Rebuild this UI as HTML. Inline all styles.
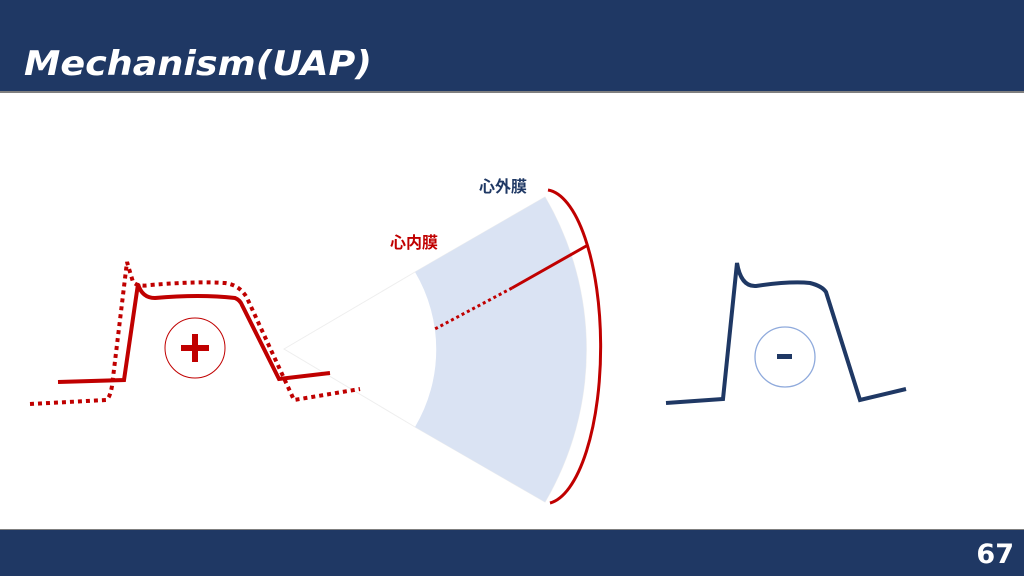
<!DOCTYPE html>
<html><head><meta charset="utf-8"><style>
html,body{margin:0;padding:0;width:1024px;height:576px;overflow:hidden;background:#fff}
svg{display:block}
</style></head><body>
<svg width="1024" height="576" viewBox="0 0 1024 576" xmlns="http://www.w3.org/2000/svg">
<rect x="0" y="0" width="1024" height="91" fill="#1f3864"/>
<rect x="0" y="91" width="1024" height="2" fill="#7f7f7f"/>
<text x="24" y="75" font-family="DejaVu Sans, Liberation Sans, sans-serif" font-weight="bold" font-style="italic" font-size="34" fill="#fff" textLength="348" lengthAdjust="spacingAndGlyphs">Mechanism(UAP)</text>
<rect x="0" y="530" width="1024" height="46" fill="#1f3864"/>
<rect x="0" y="529" width="1024" height="1" fill="#7f7f7f"/>
<text x="1014" y="563" text-anchor="end" font-family="DejaVu Sans, Liberation Sans, sans-serif" font-weight="bold" font-size="27" fill="#fff">67</text>

<!-- fan -->
<path d="M284,349 L415,272 L545,197 A302,302 0 0 1 545,502 L415,427 Z" fill="none" stroke="#eeeeee" stroke-width="1"/>
<path d="M415,272 L545,197 A302,302 0 0 1 545,502 L415,427 A152,152 0 0 0 415,272 Z" fill="#dae3f3"/>
<path d="M548,190 A56,157 0 0 1 550,503" fill="none" stroke="#c00000" stroke-width="3"/>
<line x1="512" y1="288" x2="588" y2="245" stroke="#c00000" stroke-width="3"/>
<line x1="512" y1="288" x2="433" y2="330" stroke="#c00000" stroke-width="3" stroke-dasharray="3,3"/>
<text x="479" y="192" font-family="Liberation Sans, Noto Sans CJK JP, sans-serif" font-weight="bold" font-size="16" fill="#1f3864">心外膜</text>
<text x="390" y="248" font-family="Liberation Sans, Noto Sans CJK JP, sans-serif" font-weight="bold" font-size="16" fill="#c00000">心内膜</text>

<!-- left AP -->
<path d="M58,382 L124,380 L138,284 Q142,298 155,298 Q200,294 235,298 Q240,300 242,305 L279,379 L330,373" fill="none" stroke="#c00000" stroke-width="4"/>
<path d="M30,404 L106,400 Q110,398 112,386 L127,262 L133,282 Q138,287 150,285 Q200,281 225,283 Q240,285 247,298 L294,400 L360,389" fill="none" stroke="#c00000" stroke-width="4" stroke-dasharray="4,4"/>
<circle cx="195" cy="348" r="30" fill="none" stroke="#c00000" stroke-width="1"/>
<rect x="181" y="345" width="28" height="6" fill="#c00000"/>
<rect x="192" y="334" width="6" height="28" fill="#c00000"/>

<!-- right AP -->
<path d="M666,403 L723,399 L737,263 Q741,287 756,286 Q790,281 810,283 Q822,286 826,292 L860,400 L906,389" fill="none" stroke="#1f3864" stroke-width="4"/>
<circle cx="785" cy="357" r="30" fill="none" stroke="#8faadc" stroke-width="1.3"/>
<rect x="777" y="354" width="15" height="5" fill="#1f3864"/>
</svg>
</body></html>
